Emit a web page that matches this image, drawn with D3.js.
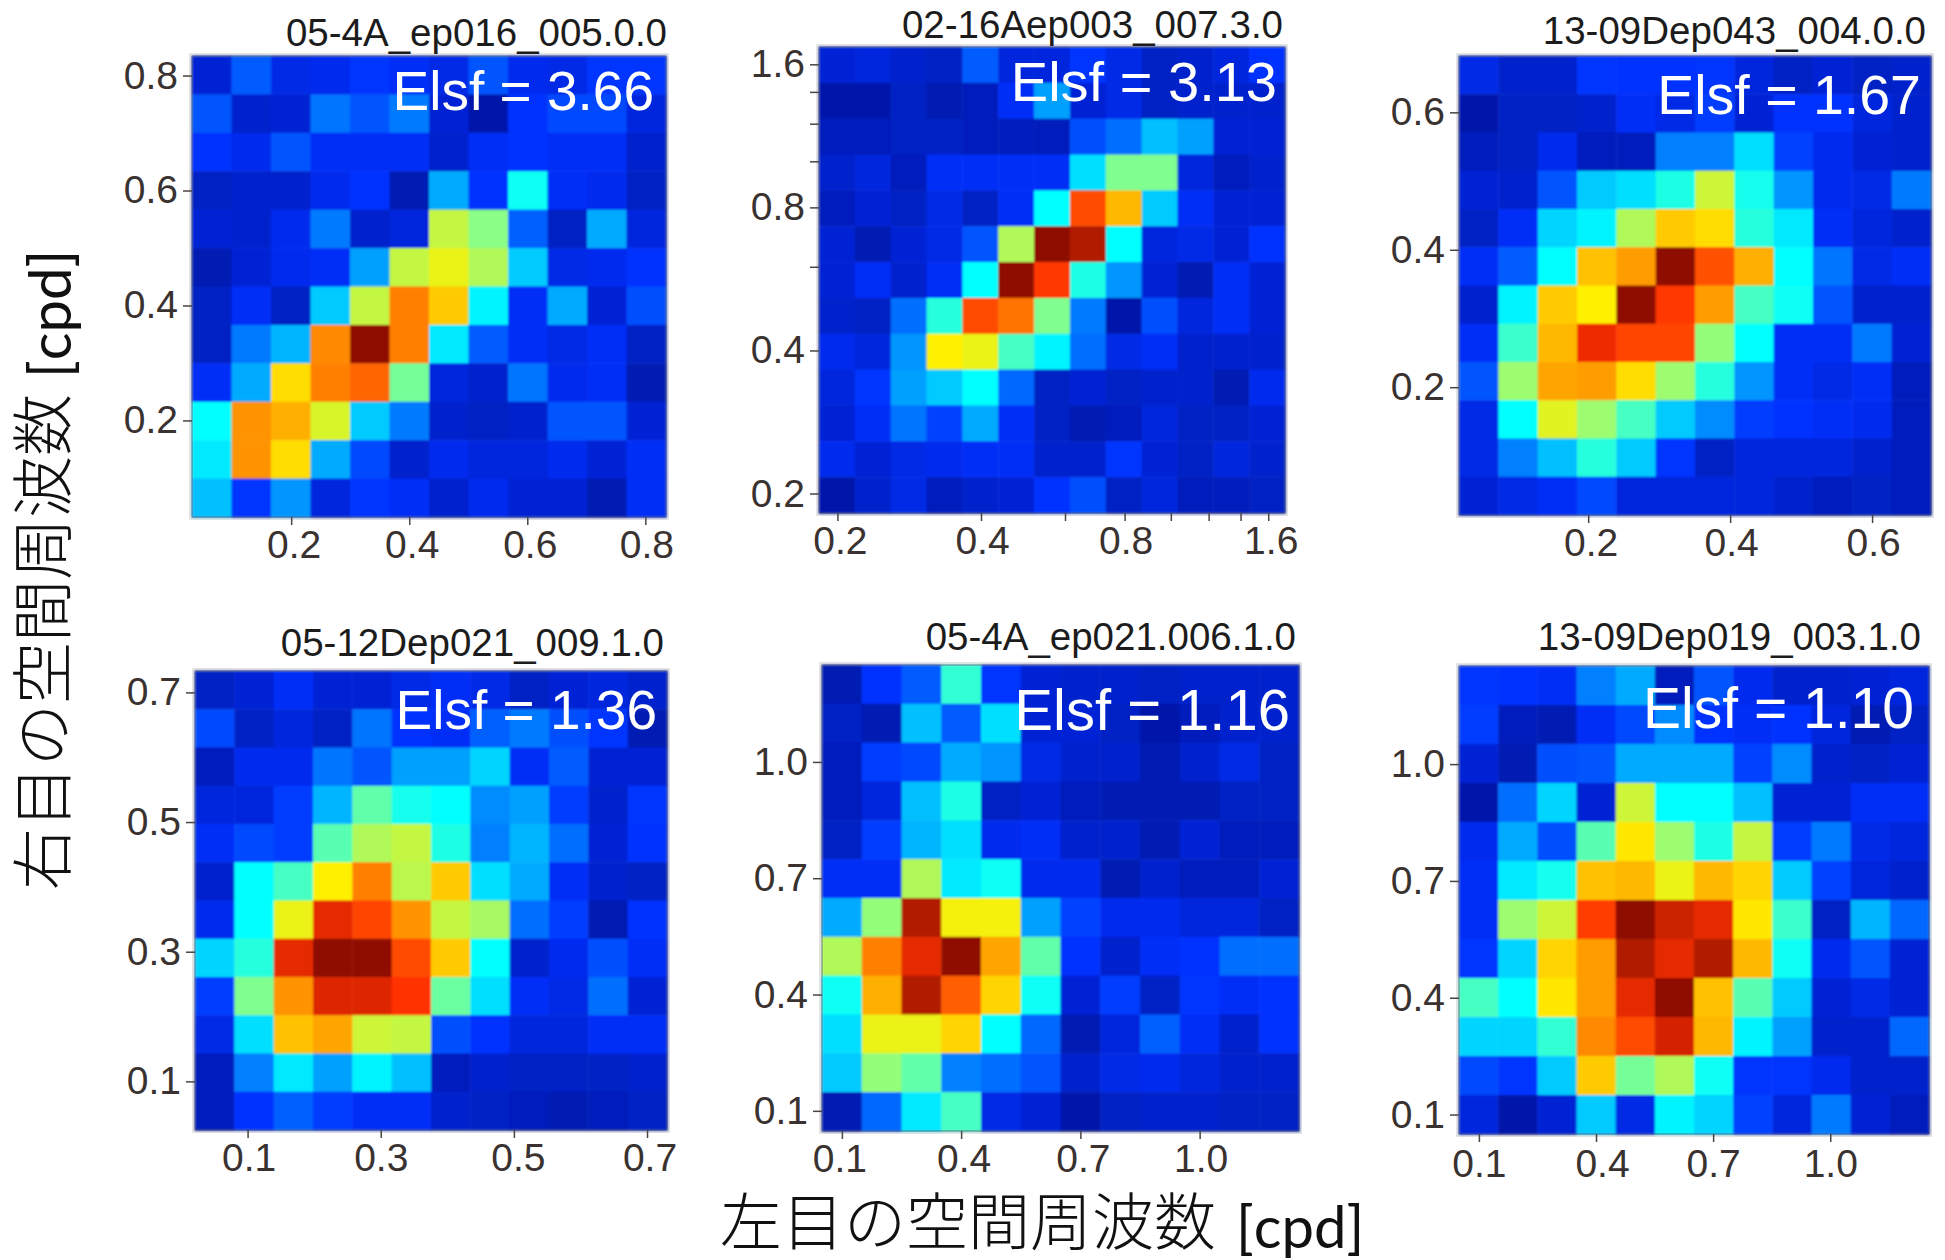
<!DOCTYPE html>
<html>
<head>
<meta charset="utf-8">
<script src="https://cdn.jsdelivr.net/npm/d3@7"></script>
<style>
  html, body { margin: 0; padding: 0; background: #fff; }
  svg { display: block; }
</style>
</head>
<body>
<svg id="chart" width="1945" height="1260"></svg>
<script>
// response values, rows top to bottom, 0-100 on the colour scale
const cellsA = [
  [7, 19, 9, 10, 13, 11, 9, 18, 10, 9, 13, 13],
  [18, 6, 7, 23, 18, 24, 7, 2, 12, 16, 16, 8],
  [12, 10, 18, 11, 11, 11, 6, 11, 12, 11, 11, 6],
  [5, 6, 6, 10, 12, 3, 29, 12, 38, 11, 10, 5],
  [7, 6, 10, 24, 6, 8, 57, 51, 20, 5, 29, 8],
  [3, 7, 10, 11, 28, 57, 61, 55, 32, 9, 10, 12],
  [5, 11, 5, 32, 57, 75, 67, 36, 11, 29, 7, 17],
  [5, 24, 30, 74, 100, 75, 35, 19, 11, 9, 11, 5],
  [11, 29, 65, 75, 79, 49, 8, 6, 23, 10, 11, 3],
  [37, 73, 70, 59, 32, 24, 6, 5, 6, 18, 18, 7],
  [35, 73, 65, 29, 16, 6, 10, 8, 8, 10, 7, 11],
  [31, 13, 27, 8, 13, 11, 6, 10, 7, 7, 3, 11]
];
const cellsB = [
  [7, 8, 6, 5, 19, 8, 8, 13, 9, 5, 6, 8, 12],
  [2, 2, 5, 3, 4, 11, 28, 7, 9, 5, 6, 6, 6],
  [4, 4, 5, 5, 4, 4, 4, 17, 22, 31, 28, 7, 7],
  [6, 8, 4, 11, 11, 11, 11, 34, 50, 50, 8, 4, 6],
  [4, 7, 5, 9, 5, 11, 37, 83, 69, 32, 11, 7, 7],
  [7, 3, 7, 9, 18, 55, 100, 96, 37, 8, 9, 7, 12],
  [7, 11, 6, 11, 37, 100, 86, 40, 27, 7, 3, 11, 7],
  [6, 5, 22, 41, 83, 77, 50, 24, 2, 17, 8, 11, 7],
  [10, 8, 27, 63, 61, 44, 36, 22, 9, 11, 6, 6, 6],
  [8, 13, 28, 32, 37, 21, 5, 7, 5, 6, 6, 3, 10],
  [7, 11, 23, 15, 29, 11, 5, 3, 4, 8, 5, 5, 7],
  [10, 7, 9, 10, 11, 11, 6, 6, 13, 7, 5, 8, 6],
  [2, 6, 9, 4, 6, 7, 12, 17, 5, 8, 4, 4, 5]
];
const cellsC = [
  [9, 6, 6, 13, 12, 12, 13, 8, 5, 7, 5, 6],
  [2, 5, 5, 6, 11, 9, 14, 7, 12, 12, 8, 6],
  [4, 5, 10, 4, 4, 25, 25, 34, 15, 10, 7, 6],
  [7, 6, 18, 32, 34, 40, 58, 39, 27, 10, 9, 24],
  [5, 11, 33, 36, 55, 67, 65, 41, 35, 11, 8, 6],
  [11, 19, 37, 68, 72, 100, 82, 70, 37, 23, 9, 11],
  [6, 36, 67, 63, 100, 86, 72, 44, 38, 18, 6, 6],
  [11, 43, 69, 89, 84, 84, 52, 37, 11, 11, 24, 7],
  [18, 53, 71, 72, 65, 53, 41, 27, 11, 9, 11, 4],
  [9, 37, 60, 53, 44, 32, 26, 14, 12, 11, 10, 4],
  [9, 25, 31, 41, 32, 13, 5, 8, 8, 8, 6, 4],
  [7, 9, 11, 16, 8, 8, 8, 8, 6, 4, 5, 4]
];
const cellsD = [
  [5, 7, 11, 7, 7, 9, 11, 9, 5, 7, 8, 6],
  [16, 5, 8, 5, 23, 12, 11, 20, 24, 17, 13, 3],
  [4, 10, 10, 23, 18, 28, 28, 33, 11, 19, 7, 7],
  [8, 8, 14, 30, 47, 39, 37, 26, 28, 14, 6, 13],
  [11, 16, 14, 46, 55, 57, 40, 25, 30, 22, 7, 12],
  [6, 37, 44, 63, 75, 56, 67, 34, 29, 11, 6, 5],
  [10, 37, 61, 90, 84, 73, 57, 54, 22, 14, 3, 12],
  [33, 41, 90, 100, 100, 83, 67, 37, 6, 10, 17, 11],
  [14, 50, 73, 91, 91, 87, 48, 34, 11, 9, 22, 7],
  [9, 34, 68, 71, 58, 57, 17, 12, 8, 8, 11, 11],
  [4, 25, 35, 28, 36, 31, 4, 6, 5, 5, 5, 6],
  [4, 12, 20, 14, 11, 11, 6, 5, 4, 3, 4, 5]
];
const cellsE = [
  [3, 12, 19, 42, 13, 7, 6, 6, 5, 6, 6, 6],
  [5, 3, 31, 19, 34, 7, 7, 5, 2, 4, 6, 6],
  [4, 14, 16, 29, 27, 9, 6, 6, 3, 6, 9, 5],
  [4, 8, 31, 40, 5, 7, 4, 3, 3, 3, 5, 5],
  [5, 14, 30, 34, 10, 11, 6, 6, 3, 7, 4, 4],
  [11, 11, 55, 35, 38, 10, 10, 3, 6, 4, 4, 7],
  [29, 52, 96, 62, 62, 28, 15, 10, 10, 8, 8, 5],
  [55, 75, 90, 100, 71, 47, 12, 6, 11, 12, 22, 22],
  [38, 70, 96, 80, 66, 38, 7, 14, 5, 13, 11, 12],
  [34, 61, 61, 66, 37, 21, 3, 8, 20, 11, 6, 12],
  [32, 52, 47, 25, 22, 18, 6, 9, 10, 8, 6, 6],
  [3, 21, 35, 44, 9, 7, 2, 5, 6, 6, 5, 5]
];
const cellsF = [
  [13, 12, 11, 25, 29, 4, 18, 10, 6, 6, 7, 8],
  [14, 4, 3, 11, 16, 26, 12, 11, 12, 8, 3, 5],
  [7, 3, 17, 18, 29, 29, 29, 15, 26, 6, 5, 7],
  [2, 22, 33, 7, 58, 37, 37, 31, 7, 7, 11, 11],
  [10, 29, 17, 46, 64, 53, 40, 57, 14, 24, 9, 8],
  [11, 35, 39, 68, 69, 61, 69, 66, 32, 15, 8, 6],
  [11, 53, 58, 85, 100, 93, 90, 64, 43, 5, 30, 21],
  [13, 33, 66, 72, 96, 90, 96, 69, 38, 10, 18, 7],
  [44, 37, 64, 72, 90, 100, 68, 46, 32, 7, 9, 7],
  [33, 33, 42, 74, 83, 92, 69, 36, 28, 6, 6, 21],
  [16, 13, 32, 67, 49, 55, 38, 13, 13, 10, 6, 6],
  [8, 2, 7, 32, 9, 36, 33, 15, 8, 24, 7, 4]
];

const titles = ["05-4A_ep016_005.0.0", "02-16Aep003_007.3.0", "13-09Dep043_004.0.0",
                "05-12Dep021_009.1.0", "05-4A_ep021.006.1.0", "13-09Dep019_003.1.0"];
const elsf = ["3.66", "3.13", "1.67", "1.36", "1.16", "1.10"];

// axis ranges in cpd
const xDomains = [[0.032, 0.835], [0.183, 1.735], [0.018, 0.683], [0.021, 0.73], [0.05, 1.25], [0.049, 1.253]];
const yDomains = [[0.032, 0.834], [0.182, 1.74], [0.014, 0.682], [0.025, 0.733], [0.048, 1.25], [0.05, 1.252]];
const xLabelled = [[0.2, 0.4, 0.6, 0.8], [0.2, 0.4, 0.8, 1.6], [0.2, 0.4, 0.6], [0.1, 0.3, 0.5, 0.7], [0.1, 0.4, 0.7, 1.0], [0.1, 0.4, 0.7, 1.0]];
const yLabelled = [[0.2, 0.4, 0.6, 0.8], [0.2, 0.4, 0.8, 1.6], [0.2, 0.4, 0.6], [0.1, 0.3, 0.5, 0.7], [0.1, 0.4, 0.7, 1.0], [0.1, 0.4, 0.7, 1.0]];
const minorLogTicks = [0.6, 1.0, 1.2, 1.4];

const colorStops = [0, 12, 25, 37, 50, 63, 75, 87, 100];
const colorValues = ["#00149a", "#0030ff", "#0080ff", "#00ffff", "#80ff90", "#fff000", "#ff8000", "#ff3000", "#8f1000"];

// where each panel sits on the page: x0, x1, y0, y1
const frames = [
  [192, 666, 56, 517], [819, 1285, 47, 513], [1459, 1931, 56, 515],
  [195, 667, 671, 1130], [822, 1299, 665, 1131], [1459, 1929, 666, 1134]
];
// the panels were pasted by hand, so text offsets differ a little from panel to panel
const titleOffsets = [[1, -10], [-2, -9], [-5, -12.5], [-3, -15], [-3, -15], [-8, -16]];
const elsfOffsets = [[-12, 54], [-8, 54], [-10, 58], [-10, 58], [-9, 65], [-15, 62]];
const elsfSizes = [55, 56, 55.5, 55, 58, 57];
const xLabelShift = [[2.5, 2.5, 2.5, 1], [2.5, 1, 1, 2.5], [2.5, 1, 1], [1, 0, 4, 2.5], [-2.5, 2.5, 2.5, 1], [0, 6, 0, 0]];

const allCells = [cellsA, cellsB, cellsC, cellsD, cellsE, cellsF];
const latin = "'Liberation Sans', Arial, sans-serif";
const inkColor = "#3a3230";

let svg = d3.select("#chart");
let colorScale = d3.scaleLinear().domain(colorStops).range(colorValues);

svg.append("defs").append("filter").attr("id", "soft")
    .attr("x", "-2%").attr("y", "-2%").attr("width", "104%").attr("height", "104%")
    .append("feGaussianBlur").attr("stdDeviation", 0.8);

allCells.forEach((cells, p) => {
    let [x0, x1, y0, y1] = frames[p];
    let isLog = p === 1;
    let g = svg.append("g").attr("transform", "translate(" + x0 + "," + y0 + ")");
    let width = x1 - x0;
    let height = y1 - y0;

    let col = d3.scaleBand().domain(d3.range(cells[0].length)).range([0, width]);
    let row = d3.scaleBand().domain(d3.range(cells.length)).range([0, height]);
    let x = (isLog ? d3.scaleLog() : d3.scaleLinear()).domain(xDomains[p]).range([0, width]);
    let y = (isLog ? d3.scaleLog() : d3.scaleLinear()).domain(yDomains[p]).range([height, 0]);

    g.append("rect")
        .attr("x", -2).attr("y", -2).attr("width", width + 4).attr("height", height + 4)
        .attr("fill", "none").attr("stroke", "#dcdcdc").attr("stroke-width", 1.5);

    g.append("g").attr("filter", "url(#soft)")
        .selectAll("g")
        .data(cells)
        .enter().append("g")
        .attr("transform", (d, i) => "translate(0," + row(i) + ")")
        .selectAll("rect")
        .data(d => d)
        .enter().append("rect")
        .attr("x", (d, i) => col(i))
        .attr("width", col.bandwidth() + 0.5)
        .attr("height", row.bandwidth() + 0.5)
        .attr("fill", d => colorScale(d));

    g.append("rect")
        .attr("width", width).attr("height", height)
        .attr("fill", "none").attr("stroke", "#0a1440").attr("stroke-opacity", 0.6).attr("stroke-width", 1);

    let fmt = labelled => (d => labelled.includes(d) ? d.toFixed(1) : "");
    let xAxis = d3.axisBottom(x).tickSizeOuter(0).tickSize(8).tickPadding(p === 5 ? 7 : 5)
        .tickValues(isLog ? xLabelled[p].concat(minorLogTicks) : xLabelled[p])
        .tickFormat(fmt(xLabelled[p]));
    let yAxis = d3.axisLeft(y).tickSizeOuter(0).tickSize(9).tickPadding(5)
        .tickValues(isLog ? yLabelled[p].concat(minorLogTicks) : yLabelled[p])
        .tickFormat(fmt(yLabelled[p]));

    let xg = g.append("g").attr("transform", "translate(0," + height + ")").call(xAxis);
    let yg = g.append("g").call(yAxis);
    [xg, yg].forEach(a => {
        a.select(".domain").remove();
        a.selectAll("line").attr("stroke", "#4a4444").attr("stroke-width", 1.5);
        a.selectAll("text").attr("font-family", latin).attr("font-size", 39).attr("fill", inkColor);
    });
    xg.selectAll("text").attr("dx", d => {
        let i = xLabelled[p].indexOf(d);
        return i < 0 ? 0 : xLabelShift[p][i];
    });

    g.append("text")
        .attr("x", width + titleOffsets[p][0]).attr("y", titleOffsets[p][1])
        .attr("text-anchor", "end")
        .attr("font-family", latin).attr("font-size", 38.5).attr("fill", "#1c1c1c")
        .text(titles[p]);

    g.append("text")
        .attr("x", width + elsfOffsets[p][0]).attr("y", elsfOffsets[p][1])
        .attr("text-anchor", "end")
        .attr("font-family", latin).attr("font-size", elsfSizes[p]).attr("fill", "#fff")
        .text("Elsf = " + elsf[p]);
});

function axisTitle(sel, jp, gap, drop) {
    sel.attr("fill", "#111");
    // Liberation has no kana or kanji, so the glyphs fall through to Noto but the text box stays tight
    sel.append("tspan").attr("font-family", "'Liberation Sans', 'Noto Sans CJK JP'").attr("font-size", 62).attr("font-weight", 300).text(jp);
    sel.append("tspan").attr("font-family", "Lato, sans-serif").attr("font-size", 58).attr("dx", gap).attr("dy", drop).text("[cpd]");
}

svg.append("text").attr("x", 720).attr("y", 1245).call(axisTitle, "左目の空間周波数", 20, 2.5);
svg.append("text").attr("transform", "translate(66,890) rotate(-90)").call(axisTitle, "右目の空間周波数", 16, 5);
</script>
</body>
</html>
